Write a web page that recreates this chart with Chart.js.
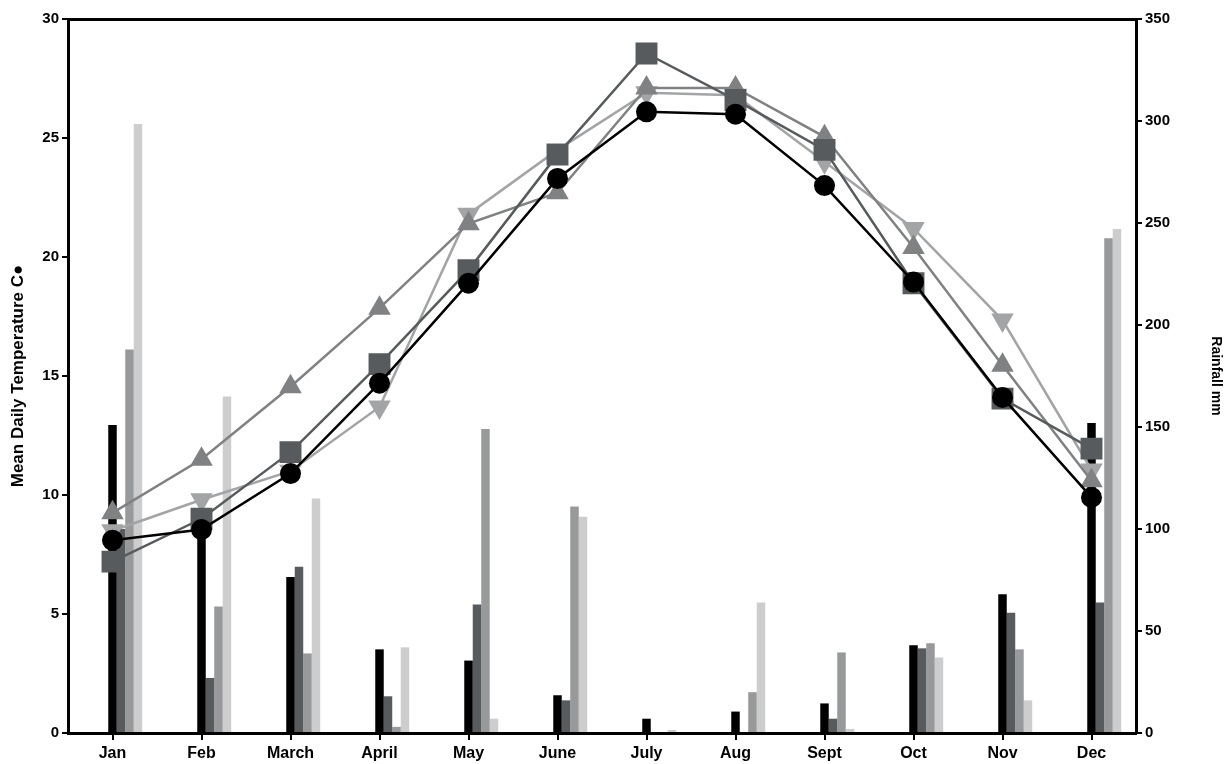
<!DOCTYPE html>
<html>
<head>
<meta charset="utf-8">
<script src="https://cdn.jsdelivr.net/npm/chart.js@4.4.1/dist/chart.umd.min.js"></script>
<style>
  html, body { margin: 0; padding: 0; background: #fff; }
  #wrap { width: 1228px; height: 764px; }
</style>
</head>
<body>
<div id="wrap"><canvas id="climateChart"></canvas></div>
<script>
const months = ['Jan', 'Feb', 'March', 'April', 'May', 'June', 'July', 'Aug', 'Sept', 'Oct', 'Nov', 'Dec'];

// mean daily temperature, deg C (left axis)
const tempCircle = [8.1, 8.55, 10.9, 14.7, 18.9, 23.3, 26.1, 26.0, 23.0, 18.95, 14.1, 9.9];
const tempSquare = [7.2, 9.0, 11.8, 15.5, 19.45, 24.3, 28.55, 26.6, 24.5, 18.9, 14.05, 11.95];
const tempUp = [9.25, 11.5, 14.55, 17.85, 21.4, 22.7, 27.1, 27.1, 25.05, 20.4, 15.45, 10.6];
const tempDown = [8.5, 9.8, 11.0, 13.7, 21.8, 24.5, 26.9, 26.8, 24.0, 21.2, 17.35, 11.05];

// rainfall, mm (right axis)
const rainBlack = [151, 103, 76.5, 41, 35.5, 18.5, 7, 10.5, 14.5, 43, 68, 152];
const rainDark = [100, 27, 81.5, 18, 63, 16, 0, 0, 7, 41.5, 59, 64];
const rainMid = [188, 62, 39, 3, 149, 111, 0.5, 20, 39.5, 44, 41, 242.5];
const rainLight = [298.5, 165, 115, 42, 7, 106, 1.5, 64, 2, 37, 16, 247];

const tempTicks = { min: 0, max: 30, step: 5 };
const rainTicks = { min: 0, max: 350, step: 50 };

const fontFamily = '"Liberation Sans", Arial, sans-serif';
const tickFont = { family: fontFamily, size: 15, weight: 'bold' };

function lineSet(data, color, style, radius, rotation, order) {
  return {
    type: 'line',
    data,
    yAxisID: 'y',
    borderColor: color,
    backgroundColor: color,
    borderWidth: 2.5,
    pointStyle: style,
    pointRadius: radius,
    pointRotation: rotation,
    pointBorderWidth: 0,
    order
  };
}

function barSet(data, color) {
  return {
    type: 'bar',
    data,
    yAxisID: 'y2',
    backgroundColor: color,
    borderWidth: 0,
    order: 1
  };
}

// empty slots so the first bar of each group sits on the month tick
const spacer = months.map(() => null);

const datasets = [
  barSet(spacer, 'transparent'),
  barSet(spacer, 'transparent'),
  barSet(spacer, 'transparent'),
  barSet(rainBlack, '#000000'),
  barSet(rainDark, '#575b5d'),
  barSet(rainMid, '#97999b'),
  barSet(rainLight, '#cdcdcd'),
  lineSet(tempDown, '#a2a4a6', 'triangle', 13, 180, 0.4),
  lineSet(tempUp, '#7f8183', 'triangle', 13, 0, 0.3),
  lineSet(tempSquare, '#585b5d', 'rect', 15.5, 0, 0.2),
  lineSet(tempCircle, '#000000', 'circle', 10.5, 0, 0.1)
];

new Chart(document.getElementById('climateChart'), {
  type: 'bar',
  data: { labels: months, datasets },
  options: {
    responsive: true,
    maintainAspectRatio: false,
    animation: false,
    devicePixelRatio: 1,
    layout: { padding: { top: 19, left: 0, right: 0, bottom: 0 } },
    datasets: { bar: { categoryPercentage: 0.668, barPercentage: 1.0 } },
    plugins: { legend: { display: false }, tooltip: { enabled: false } },
    scales: {
      x: {
        position: 'bottom',
        offset: true,
        grid: { offset: false, drawOnChartArea: false, color: '#000', lineWidth: 2, tickLength: 7 },
        border: { color: '#000', width: 3 },
        ticks: { color: '#000', font: { family: fontFamily, size: 16, weight: 'bold' }, padding: 4, maxRotation: 0, autoSkip: false },
        afterFit: (scale) => { scale.height = 31; }
      },
      xTop: {
        position: 'top',
        offset: true,
        grid: { display: false },
        border: { color: '#000', width: 3 },
        ticks: { display: false },
        afterFit: (scale) => { scale.height = 0; }
      },
      y: {
        position: 'left',
        min: tempTicks.min,
        max: tempTicks.max,
        grid: { drawOnChartArea: false, color: '#000', lineWidth: 2, tickLength: 6 },
        border: { color: '#000', width: 3 },
        ticks: { stepSize: tempTicks.step, color: '#000', font: tickFont, padding: 3 },
        title: {
          display: true,
          text: 'Mean Daily Temperature C●',
          color: '#000',
          font: { family: fontFamily, size: 17, weight: 'bold' },
          padding: { top: 8, bottom: 0 }
        },
        afterFit: (scale) => { scale.width = 68; }
      },
      y2: {
        position: 'right',
        min: rainTicks.min,
        max: rainTicks.max,
        grid: { drawOnChartArea: false, color: '#000', lineWidth: 2, tickLength: 6 },
        border: { color: '#000', width: 3 },
        ticks: { stepSize: rainTicks.step, color: '#000', font: tickFont, padding: 3 },
        title: {
          display: true,
          text: 'Rainfall mm',
          color: '#000',
          font: { family: fontFamily, size: 14, weight: 'bold' },
          padding: { top: 4, bottom: 0 }
        },
        afterFit: (scale) => { scale.width = 92; }
      }
    }
  }
});
</script>
</body>
</html>
